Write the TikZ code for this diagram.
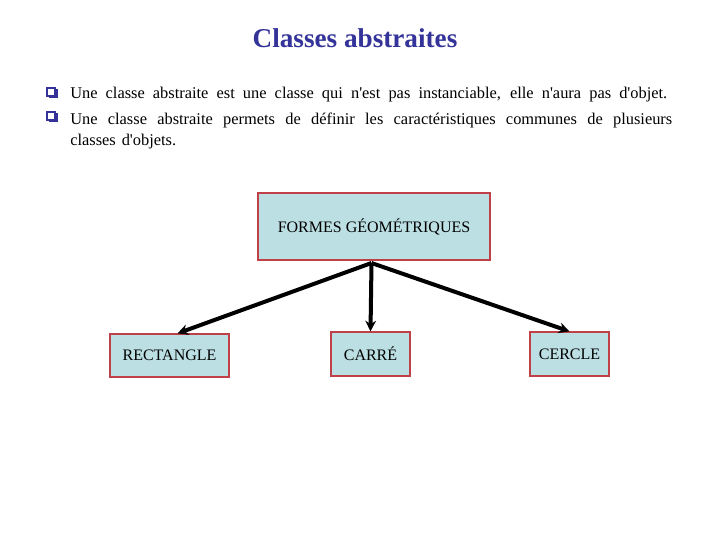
\documentclass[tikz,border=0pt]{standalone}
\usepackage{fontspec}
\setmainfont{Liberation Serif}[Ligatures=TeXOff]
\usetikzlibrary{arrows.meta,calc}
\definecolor{titleblue}{RGB}{51,51,153}
\definecolor{boxfill}{RGB}{188,223,227}
\definecolor{boxedge}{RGB}{192,64,72}
\tikzset{
  classbox/.style={draw=boxedge, line width=0.9pt, fill=boxfill, inner sep=0pt,
    font=\fontsize{12pt}{14pt}\selectfont},
  link/.style={line width=3pt, -{Stealth[length=8pt,width=8pt]}},
  bullettext/.style={anchor=base west, inner sep=0pt, font=\fontsize{12.3pt}{16.5pt}\selectfont},
  bulletbox/.style={draw=titleblue, line width=1.1pt, fill=white, minimum size=6.2pt, inner sep=0pt}
}
\begin{document}
\begin{tikzpicture}[x=0.75pt,y=-0.75pt]
\useasboundingbox (0,0) rectangle (720,540);
\node[font=\fontsize{20.4pt}{24pt}\selectfont\bfseries, text=titleblue, inner sep=0pt] (title) at (355,38) {Classes abstraites};

% bullets
\fill[titleblue] (48.5,89) rectangle (57.5,98);
\node[bulletbox] (b1) at (51,92) {};
\fill[titleblue] (48.5,113) rectangle (57.5,122);
\node[bulletbox] (b2) at (51,116) {};

\node[bullettext] (t1) at (70,98) {\makebox[447.75pt][s]{Une classe abstraite est une classe qui n'est pas instanciable, elle n'aura pas d'objet.}};
\node[bullettext] (t2) at (70,124) {\makebox[451.5pt][s]{Une classe abstraite permets de définir les caractéristiques communes de plusieurs}};
\node[bullettext] (t3) at (70,145) {\spaceskip=4.5pt classes d'objets.};

% boxes
\node[classbox, minimum width=174pt, minimum height=50.25pt] (formes) at (374,226.5) {FORMES GÉOMÉTRIQUES};
\node[classbox, minimum width=89.25pt, minimum height=32.25pt] (rect) at (169.5,355.5) {RECTANGLE};
\node[classbox, minimum width=59.25pt, minimum height=33pt] (carre) at (370.5,354) {CARRÉ};
\node[classbox, minimum width=59.25pt, minimum height=33pt] (cercle) at (569.5,354) {CERCLE};

\coordinate (hub) at (371.5,263);
\draw[link] (hub) -- ([xshift=6pt]rect.north);
\draw[link] (hub) -- (carre.north);
\draw[link] (hub) -- (cercle.north);
\end{tikzpicture}
\end{document}
